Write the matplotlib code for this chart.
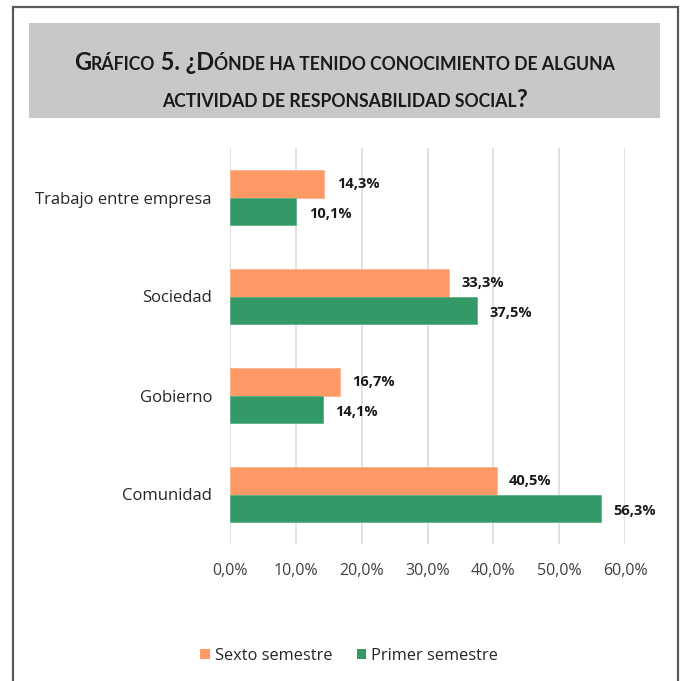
import matplotlib
matplotlib.use("Agg")
import matplotlib.pyplot as plt
from matplotlib.patches import Rectangle, Patch
from matplotlib.lines import Line2D

# ---------------- data ----------------
categories = ["Comunidad", "Gobierno", "Sociedad", "Trabajo entre empresa"]
sexto = [40.5, 16.7, 33.3, 14.3]
primer = [56.3, 14.1, 37.5, 10.1]
series_names = ["Sexto semestre", "Primer semestre"]
xticks = [0, 10, 20, 30, 40, 50, 60]
xtick_labels = ["0,0%", "10,0%", "20,0%", "30,0%", "40,0%", "50,0%", "60,0%"]
title_line1 = [("G", True), ("RÁFICO", False), (" 5. ¿D", True),
               ("ÓNDE HA TENIDO CONOCIMIENTO DE ALGUNA", False)]
title_line2 = [("ACTIVIDAD DE RESPONSABILIDAD SOCIAL", False), ("?", True)]

ORANGE = "#FF9966"
GREEN = "#339966"
FONT = "Open Sans"
TFONT = "Lato"

W, H = 683, 681
fig = plt.figure(figsize=(W / 100, H / 100), dpi=100)

def fx(px):
    return px / W

def fy(py):
    return 1 - py / H

# outer frame
fig.add_artist(Line2D([fx(13), fx(13), fx(678), fx(678)],
                      [fy(H + 5), fy(6.5), fy(6.5), fy(H + 5)],
                      color="#5a5a5a", lw=1.6, transform=fig.transFigure,
                      solid_joinstyle="miter"))
# title box
fig.add_artist(Rectangle((fx(29), fy(118)), fx(660) - fx(29), fy(23) - fy(118),
                         facecolor="#c8c8c8", edgecolor="none",
                         transform=fig.transFigure))

# ---------------- axes ----------------
ax = fig.add_axes([fx(230), fy(544), fx(625) - fx(230), fy(148) - fy(544)])
y = list(range(len(categories)))
bh = 0.28
ax.barh([v + bh / 2 for v in y], sexto, height=bh, color=ORANGE,
        edgecolor="#ffb38c", linewidth=0.6, zorder=3)
ax.barh([v - bh / 2 for v in y], primer, height=bh, color=GREEN,
        edgecolor="#5cb386", linewidth=0.6, zorder=3)

def fmt(v):
    return f"{v:.1f}".replace(".", ",") + "%"

for yi, v in zip(y, sexto):
    ax.annotate(fmt(v), xy=(v, yi + bh / 2), xytext=(9, 0),
                textcoords="offset points", va="center", ha="left",
                fontsize=10.5, fontweight="bold", family=FONT, color="#1a1a1a")
for yi, v in zip(y, primer):
    ax.annotate(fmt(v), xy=(v, yi - bh / 2), xytext=(9, -2),
                textcoords="offset points", va="center", ha="left",
                fontsize=10.5, fontweight="bold", family=FONT, color="#1a1a1a")

ax.set_xlim(0, 60)
ax.set_ylim(-0.5, 3.5)
ax.set_xticks(xticks)
ax.set_xticklabels(xtick_labels, family=FONT, fontsize=11.5, color="#404040")
ax.set_yticks(y)
ax.set_yticklabels(categories, family=FONT, fontsize=12, color="#262626")
ax.tick_params(axis="x", length=0, pad=14)
ax.tick_params(axis="y", length=0, pad=13)
for s in ax.spines.values():
    s.set_visible(False)
ax.xaxis.grid(True, color="#d9d9d9", lw=1.1)
ax.set_axisbelow(True)

# ---------------- legend ----------------
handles = [Patch(facecolor=ORANGE, edgecolor="none"),
           Patch(facecolor=GREEN, edgecolor="none")]
leg = fig.legend(handles, series_names, loc="center", ncol=2,
                 bbox_to_anchor=(fx(349), fy(656)), frameon=False,
                 prop={"family": FONT, "size": 11.8},
                 handlelength=0.6, handleheight=0.6, handletextpad=0.3,
                 columnspacing=1.5)
for t in leg.get_texts():
    t.set_color("#262626")

# ---------------- small-caps title ----------------
BIG, SMALL = 18.0, 13.5

def place_line(runs, baseline_px, big, small):
    texts = []
    for s, is_big in runs:
        t = fig.text(0, fy(baseline_px), s, fontsize=big if is_big else small,
                     fontweight="bold", family=TFONT, color="#1a1a1a",
                     ha="left", va="baseline")
        texts.append(t)
    return texts

fig.canvas.draw()
r = fig.canvas.get_renderer()

def measure(texts):
    return [t.get_window_extent(r).width for t in texts]

l1 = place_line(title_line1, 70, BIG, SMALL)
fig.canvas.draw()
w1 = sum(measure(l1))
scale = 546.0 / w1
for t in l1:
    t.remove()
BIG *= scale
SMALL *= scale

cx = (29 + 660) / 2
for runs, base in ((title_line1, 70), (title_line2, 107)):
    texts = place_line(runs, base, BIG, SMALL)
    fig.canvas.draw()
    ws = measure(texts)
    x = cx - sum(ws) / 2
    for t, w in zip(texts, ws):
        t.set_x(fx(x))
        x += w

fig.savefig("out.png", dpi=100)
